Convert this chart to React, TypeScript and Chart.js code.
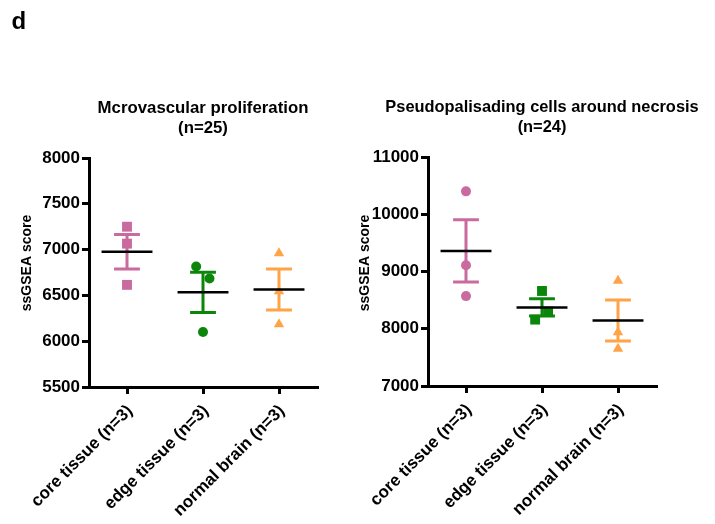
import React, { useEffect, useRef } from "react";
import { Chart, registerables } from "chart.js";

Chart.register(...registerables);

// ---------- data ----------
const PANEL_LETTER = "d";
const CATEGORIES = ["core tissue (n=3)", "edge tissue (n=3)", "normal brain (n=3)"];
const Y_LABEL = "ssGSEA score";

const MV_TITLE = ["Mcrovascular proliferation", "(n=25)"];
const MV_Y_TICKS = [5500, 6000, 6500, 7000, 7500, 8000];
const MV_CORE = [7250, 7065, 6615];
const MV_EDGE = [6815, 6685, 6100];
const MV_NORMAL = [6960, 6545, 6185];
const MV_CORE_JITTER = [0, 0, 0];
const MV_EDGE_JITTER = [-0.09, 0.085, 0];
const MV_NORMAL_JITTER = [0, 0, 0];

const PC_TITLE = ["Pseudopalisading cells around necrosis", "(n=24)"];
const PC_Y_TICKS = [7000, 8000, 9000, 10000, 11000];
const PC_CORE = [10400, 9110, 8570];
const PC_EDGE = [8660, 8160, 8300];
const PC_NORMAL = [8840, 7940, 7650];
const PC_CORE_JITTER = [0, 0, 0];
const PC_EDGE_JITTER = [0, -0.09, 0.08];
const PC_NORMAL_JITTER = [0, 0, 0];

// ---------- styles ----------
const FONT = "'Liberation Sans', Arial, Helvetica, sans-serif";
const COLORS = ["#C96B9F", "#0B860B", "#FFA347"];
const W = 715;
const H = 524;

type Panel = {
  title: string[];
  yTicks: number[];
  groups: number[][];
  jitters: number[][];
  styles: string[];
  radii: number[];
  canvasLeft: number;
  canvasWidth: number;
  area: { left: number; right: number; top: number; bottom: number };
  titleY: number[];
  titleSize: number;
  yLabelX: number;
  yLabelY: number;
  letter: boolean;
};

const PANELS: Panel[] = [
  {
    title: MV_TITLE,
    yTicks: MV_Y_TICKS,
    groups: [MV_CORE, MV_EDGE, MV_NORMAL],
    jitters: [MV_CORE_JITTER, MV_EDGE_JITTER, MV_NORMAL_JITTER],
    styles: ["rect", "circle", "triangle"],
    radii: [7, 5, 6],
    canvasLeft: 0,
    canvasWidth: 357,
    area: { left: 89, right: 317, top: 158, bottom: 387 },
    titleY: [112.5, 132.5],
    titleSize: 16.8,
    yLabelX: 27,
    yLabelY: 263,
    letter: true,
  },
  {
    title: PC_TITLE,
    yTicks: PC_Y_TICKS,
    groups: [PC_CORE, PC_EDGE, PC_NORMAL],
    jitters: [PC_CORE_JITTER, PC_EDGE_JITTER, PC_NORMAL_JITTER],
    styles: ["circle", "rect", "triangle"],
    radii: [5, 7, 6],
    canvasLeft: 357,
    canvasWidth: 358,
    area: { left: 71, right: 299, top: 157, bottom: 386 },
    titleY: [111.5, 131.5],
    titleSize: 16.4,
    yLabelX: 8,
    yLabelY: 263,
    letter: false,
  },
];

const MEAN_HALF = 0.335;
const CAP_HALF = 0.17;

function mean(a: number[]) {
  return a.reduce((s, v) => s + v, 0) / a.length;
}
function sem(a: number[]) {
  const m = mean(a);
  const v = a.reduce((s, x) => s + (x - m) * (x - m), 0) / (a.length - 1);
  return Math.sqrt(v) / Math.sqrt(a.length);
}

function buildDatasets(p: Panel) {
  const ds: any[] = [];
  p.groups.forEach((vals, i) => {
    const m = mean(vals);
    const e = sem(vals);
    ds.push({
      type: "scatter",
      data: [
        { x: i - MEAN_HALF, y: m },
        { x: i + MEAN_HALF, y: m },
      ],
      showLine: true,
      borderColor: "#000",
      borderWidth: 2.5,
      pointRadius: 0,
      order: 1,
    });
    ds.push({
      type: "scatter",
      data: [
        { x: i - CAP_HALF, y: m + e },
        { x: i + CAP_HALF, y: m + e },
        { x: i, y: null },
        { x: i, y: m + e },
        { x: i, y: m - e },
        { x: i, y: null },
        { x: i - CAP_HALF, y: m - e },
        { x: i + CAP_HALF, y: m - e },
      ],
      showLine: true,
      spanGaps: false,
      borderColor: COLORS[i],
      borderWidth: 3,
      pointRadius: 0,
      order: 2,
    });
    ds.push({
      type: "scatter",
      data: vals.map((v, j) => ({ x: i + p.jitters[i][j], y: v })),
      pointStyle: p.styles[i],
      pointRadius: p.radii[i],
      backgroundColor: COLORS[i],
      borderColor: COLORS[i],
      pointBorderWidth: 0,
      order: 3,
    });
  });
  return ds;
}

const textPlugin = (p: Panel) => ({
  id: "panelText",
  afterDraw(chart: any) {
    const ctx = chart.ctx as CanvasRenderingContext2D;
    const ca = chart.chartArea;
    ctx.save();
    ctx.fillStyle = "#000";
    if (p.letter) {
      ctx.font = `bold 24px ${FONT}`;
      ctx.textAlign = "left";
      ctx.textBaseline = "alphabetic";
      ctx.fillText(PANEL_LETTER, 11.5, 28.5);
    }
    ctx.font = `bold ${p.titleSize}px ${FONT}`;
    ctx.textAlign = "center";
    ctx.textBaseline = "alphabetic";
    const cx = (ca.left + ca.right) / 2;
    p.title.forEach((t, k) => ctx.fillText(t, cx, p.titleY[k]));
    ctx.translate(p.yLabelX, p.yLabelY);
    ctx.rotate(-Math.PI / 2);
    ctx.font = `bold 14px ${FONT}`;
    ctx.textBaseline = "middle";
    ctx.fillText(Y_LABEL, 0, 0);
    ctx.restore();
  },
});

function PanelChart({ p }: { p: Panel }) {
  const ref = useRef<HTMLCanvasElement>(null);
  useEffect(() => {
    if (!ref.current) return;
    const axisGrid = {
      display: true,
      drawOnChartArea: false,
      drawTicks: true,
      tickLength: 7,
      lineWidth: 3,
      color: "#000",
    };
    const chart = new Chart(ref.current, {
      type: "scatter",
      data: { datasets: buildDatasets(p) },
      options: {
        responsive: false,
        animation: false,
        events: [],
        layout: {
          padding: {
            left: 0,
            top: p.area.top,
            right: p.canvasWidth - p.area.right,
            bottom: 0,
          },
        },
        plugins: {
          legend: { display: false },
          tooltip: { enabled: false },
          title: { display: false },
        },
        scales: {
          x: {
            type: "linear",
            min: -0.5,
            max: 2.5,
            afterBuildTicks: (s: any) => {
              s.ticks = CATEGORIES.map((_, i) => ({ value: i }));
            },
            afterFit: (s: any) => {
              s.height = H - p.area.bottom;
              s.paddingLeft = 0;
              s.paddingRight = 0;
              s.paddingTop = 0;
              s.paddingBottom = 0;
            },
            ticks: {
              autoSkip: false,
              maxRotation: 45,
              minRotation: 45,
              color: "#000",
              padding: 7,
              labelOffset: 3,
              font: { family: FONT, size: 17, weight: "bold" },
              callback: (_v: any, i: number) => CATEGORIES[i],
            },
            grid: axisGrid,
            border: { display: true, color: "#000", width: 3 },
          },
          y: {
            type: "linear",
            min: p.yTicks[0],
            max: p.yTicks[p.yTicks.length - 1],
            afterBuildTicks: (s: any) => {
              s.ticks = p.yTicks.map((v) => ({ value: v }));
            },
            afterFit: (s: any) => {
              s.width = p.area.left;
              s.paddingTop = 0;
              s.paddingBottom = 0;
            },
            ticks: {
              color: "#000",
              padding: 2,
              font: { family: FONT, size: 17, weight: "bold" },
              callback: (v: any) => String(v),
            },
            grid: axisGrid,
            border: { display: true, color: "#000", width: 3 },
          },
        },
      } as any,
      plugins: [textPlugin(p)],
    });
    return () => chart.destroy();
  }, [p]);
  return (
    <canvas
      ref={ref}
      width={p.canvasWidth}
      height={H}
      style={{
        position: "absolute",
        left: p.canvasLeft,
        top: 0,
        width: p.canvasWidth,
        height: H,
      }}
    />
  );
}

export default function App() {
  return (
    <div
      style={{
        position: "absolute",
        left: 0,
        top: 0,
        width: W,
        height: H,
        background: "#fff",
        overflow: "hidden",
      }}
    >
      {PANELS.map((p, i) => (
        <PanelChart key={i} p={p} />
      ))}
    </div>
  );
}
